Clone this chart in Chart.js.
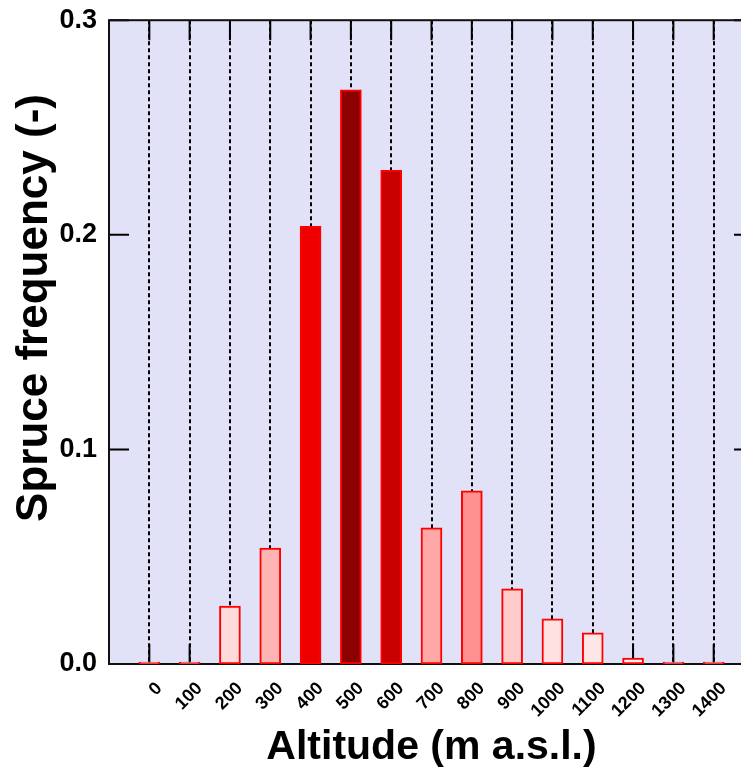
<!DOCTYPE html>
<html>
<head>
<meta charset="utf-8">
<title>Spruce frequency by altitude</title>
<script src="https://cdn.jsdelivr.net/npm/chart.js@4/dist/chart.umd.min.js"></script>
<style>
  html, body { margin: 0; padding: 0; background: #fff; overflow: hidden; }
  #wrap { width: 741px; height: 773px; overflow: hidden; }
  canvas { display: block; }
</style>
</head>
<body>
<div id="wrap">
  <canvas id="spruceChart" width="760" height="773"></canvas>
</div>
<script>
// Données
const altitudes = [0, 100, 200, 300, 400, 500, 600, 700, 800, 900, 1000, 1100, 1200, 1300, 1400];
const frequencies = [0, 0, 0.027, 0.054, 0.204, 0.2675, 0.23, 0.0635, 0.0807, 0.035, 0.021, 0.0145, 0.0028, 0, 0];
const yTicks = [0, 0.1, 0.2, 0.3];

// Couleur de remplissage de chaque barre
const barColors = ['#ffffff', '#ffffff', '#ffdada', '#ffb4b4', '#ee0000', '#8c0000', '#c80000',
    '#ffa8a8', '#ff9090', '#ffcccc', '#ffe1e1', '#ffe6e6', '#fff7f7', '#ffffff', '#ffffff'];

const FONT = "'Liberation Sans', Arial, sans-serif";

// Fond, cadre, petites graduations intérieures et titre vertical
const framePlugin = {
    id: 'frame',
    beforeDraw(chart) {
        const { ctx, chartArea: a } = chart;
        ctx.save();
        ctx.fillStyle = '#e1e1f7';
        ctx.fillRect(a.left, a.top, a.right - a.left, a.bottom - a.top);
        ctx.restore();
    },
    beforeDatasetsDraw(chart) {
        const { ctx, chartArea: a, scales } = chart;
        ctx.save();
        ctx.strokeStyle = '#000';
        ctx.lineWidth = 2;
        ctx.beginPath();
        altitudes.forEach(v => {
            const x = scales.x.getPixelForValue(v);
            ctx.moveTo(x, a.top); ctx.lineTo(x, a.top + 20);
            ctx.moveTo(x, a.bottom); ctx.lineTo(x, a.bottom - 20);
        });
        yTicks.forEach(v => {
            const y = scales.y.getPixelForValue(v);
            ctx.moveTo(a.left, y); ctx.lineTo(a.left + 20, y);
            ctx.moveTo(a.right, y); ctx.lineTo(a.right - 20, y);
        });
        ctx.stroke();
        ctx.strokeStyle = '#111';
        ctx.strokeRect(a.left, a.top, a.right - a.left, a.bottom - a.top);
        ctx.restore();
    },
    afterDraw(chart) {
        const { ctx } = chart;
        ctx.save();
        ctx.translate(35, 308);
        ctx.rotate(-Math.PI / 2);
        ctx.font = `bold 44px ${FONT}`;
        ctx.fillStyle = '#000';
        ctx.textAlign = 'center';
        ctx.textBaseline = 'middle';
        ctx.fillText('Spruce frequency (-)', 0, 0);
        ctx.restore();
    }
};

new Chart(document.getElementById('spruceChart'), {
    type: 'bar',
    data: {
        datasets: [{
            data: altitudes.map((a, i) => ({ x: a, y: frequencies[i] })),
            backgroundColor: barColors,
            borderColor: '#ff0000',
            borderWidth: 2,
            borderSkipped: false,
            barThickness: 21,
            minBarLength: 2
        }]
    },
    options: {
        responsive: false,
        animation: false,
        layout: { padding: { top: 17, right: 6, left: 0, bottom: 0 } },
        plugins: { legend: { display: false }, tooltip: { enabled: false } },
        scales: {
            x: {
                type: 'linear',
                offset: false,
                min: -100,
                max: 1500,
                afterBuildTicks: scale => { scale.ticks = altitudes.map(v => ({ value: v })); },
                afterFit: scale => { scale.height = 109; },
                grid: { color: '#000', lineWidth: 2, drawTicks: false, offset: false },
                border: { display: false, dash: [4, 3] },
                ticks: {
                    autoSkip: false,
                    minRotation: 45,
                    maxRotation: 45,
                    padding: 14,
                    labelOffset: 10,
                    color: '#000',
                    font: { family: FONT, size: 18, weight: 'bold' },
                    callback: v => String(v)
                },
                title: {
                    display: true,
                    text: 'Altitude (m a.s.l.)',
                    color: '#000',
                    font: { family: FONT, size: 41, weight: 'bold' },
                    padding: { top: 0, bottom: 1 }
                }
            },
            y: {
                min: 0,
                max: 0.3,
                afterBuildTicks: scale => { scale.ticks = yTicks.map(v => ({ value: v })); },
                afterFit: scale => { scale.width = 109; },
                grid: { display: false },
                border: { display: false },
                ticks: {
                    padding: 4,
                    color: '#000',
                    font: { family: FONT, size: 27, weight: 'bold' },
                    callback: v => v.toFixed(1)
                }
            }
        }
    },
    plugins: [framePlugin]
});
</script>
</body>
</html>
